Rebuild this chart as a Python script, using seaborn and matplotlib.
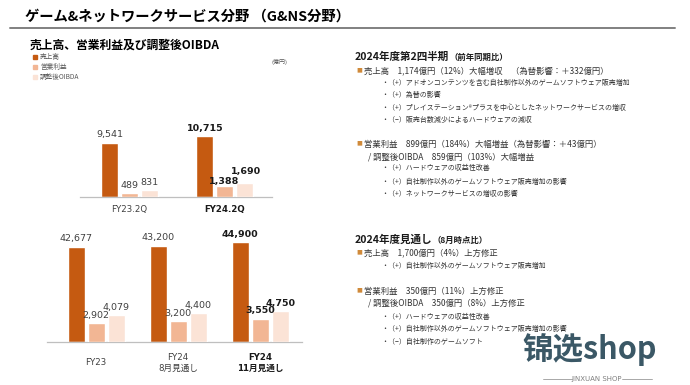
import matplotlib
matplotlib.use("Agg")
import matplotlib.pyplot as plt
from matplotlib.lines import Line2D
from matplotlib.patches import Rectangle
import pandas as pd
import seaborn as sns

# ---------------- data ----------------
series = ['売上高', '営業利益', '調整後OIBDA']

q_periods = ['FY23.2Q', 'FY24.2Q']
q_revenue = [9541, 10715]
q_op = [489, 1388]
q_oibda = [831, 1690]

y_periods = ['FY23', 'FY24\n8月見通し', 'FY24\n11月見通し']
y_revenue = [42677, 43200, 44900]
y_op = [2902, 3200, 3550]
y_oibda = [4079, 4400, 4750]

colors = ['#C55A11', '#F2B694', '#FBE3D6']

title = 'ゲーム&ネットワークサービス分野 （G&NS分野）'
subtitle = '売上高、営業利益及び調整後OIBDA'
unit = '(億円)'

head1 = ('2024年度第2四半期', '（前年同期比）')
block1 = [
    ('main', '売上高　1,174億円（12%）大幅増収　（為替影響：＋332億円）'),
    ('sub', '・（+）アドオンコンテンツを含む自社制作以外のゲームソフトウェア販売増加'),
    ('sub', '・（+）為替の影響'),
    ('sub', '・（+）プレイステーション®プラスを中心としたネットワークサービスの増収'),
    ('sub', '・（−）販売台数減少によるハードウェアの減収'),
    ('main', '営業利益　899億円（184%）大幅増益（為替影響：＋43億円）'),
    ('cont', '/ 調整後OIBDA　859億円（103%）大幅増益'),
    ('sub', '・（+）ハードウェアの収益性改善'),
    ('sub', '・（+）自社制作以外のゲームソフトウェア販売増加の影響'),
    ('sub', '・（+）ネットワークサービスの増収の影響'),
]
head2 = ('2024年度見通し', '（8月時点比）')
block2 = [
    ('main', '売上高　1,700億円（4%）上方修正'),
    ('sub', '・（+）自社制作以外のゲームソフトウェア販売増加'),
    ('main', '営業利益　350億円（11%）上方修正'),
    ('cont', '/ 調整後OIBDA　350億円（8%）上方修正'),
    ('sub', '・（+）ハードウェアの収益性改善'),
    ('sub', '・（+）自社制作以外のゲームソフトウェア販売増加の影響'),
    ('sub', '・（−）自社制作のゲームソフト'),
]
block1_y = [71, 83, 95, 108, 120, 144, 157, 168, 182, 194]
block2_y = [253, 266, 291, 303, 317, 329, 342]

# ---------------- style ----------------
sns.set_style('white')
LAT = ['DejaVu Sans', 'Noto Sans CJK JP']
JP = ['Noto Sans CJK JP', 'DejaVu Sans']
plt.rcParams['font.family'] = LAT

W, H = 690, 385
fig = plt.figure(figsize=(6.9, 3.85), dpi=100)
fig.patch.set_facecolor('white')


def fx(x):
    return x / W


def fy(y):
    return 1 - y / H


def long_df(periods, rev, op, oibda):
    rows = []
    for s, vals in zip(series, [rev, op, oibda]):
        for p, v in zip(periods, vals):
            rows.append({'period': p, 'series': s, 'value': v})
    return pd.DataFrame(rows)


def draw(rect, periods, df, rev_top, prof_top, width, gap, xlim, bold_idx, tick_pad, lsp,
         label_shift):
    ax = fig.add_axes(rect)
    ax2 = ax.twinx()
    pal = dict(zip(series, colors))
    sns.barplot(data=df[df.series == series[0]], x='period', y='value', hue='series',
                hue_order=series, order=periods, palette=pal, width=width, gap=gap,
                dodge=True, ax=ax, legend=False, errorbar=None, saturation=1)
    sns.barplot(data=df[df.series != series[0]], x='period', y='value', hue='series',
                hue_order=series, order=periods, palette=pal, width=width, gap=gap,
                dodge=True, ax=ax2, legend=False, errorbar=None, saturation=1)
    ax.set_ylim(0, rev_top)
    ax2.set_ylim(0, prof_top)
    for a in (ax, ax2):
        a.set_xlabel('')
        a.set_ylabel('')
        a.set_yticks([])
        for sp in a.spines.values():
            sp.set_visible(False)
    pairs = [(a, c) for a in (ax, ax2) for c in a.containers if len(c) > 0]
    for k, (a, c) in enumerate(pairs):
        texts = a.bar_label(c, labels=[f'{v:,.0f}' for v in c.datavalues],
                            padding=2.5, fontsize=6.8, color='#404040')
        for i, t in enumerate(texts):
            if i == bold_idx:
                t.set_fontweight('bold')
                t.set_color('#1a1a1a')
                dx, dy = label_shift.get(k, (0, 0))
                t.xyann = (t.xyann[0] + dx, t.xyann[1] + dy)
    ax.spines['bottom'].set_visible(True)
    ax.spines['bottom'].set_color('#BFBFBF')
    ax.spines['bottom'].set_linewidth(0.9)
    ax.set_xlim(*xlim)
    ax.set_xticks(range(len(periods)))
    ax.set_xticklabels(periods, fontsize=6.2, color='#404040', linespacing=lsp)
    ax.tick_params(axis='x', length=0, pad=tick_pad)
    for i, t in enumerate(ax.get_xticklabels()):
        t.set_va('center')
        if i == bold_idx:
            t.set_fontweight('bold')
            t.set_color('#1a1a1a')
    ax.set_xlim(*xlim)
    return ax, ax2


# top chart (quarter)
draw([fx(80), fy(197), 192 / W, 77 / H], q_periods,
     long_df(q_periods, q_revenue, q_op, q_oibda),
     13580, 9500, 0.62, 0.13, (-0.52, 1.5), 1, 9, 1.3, {1: (-0.5, -2.5), 2: (1, 2.5)})

# bottom chart (full year)
draw([fx(47), fy(342), 255 / W, 107 / H], y_periods,
     long_df(y_periods, y_revenue, y_op, y_oibda),
     48030, 16460, 0.73, 0.15, (-0.6, 2.51), 2, 15, 1.35, {})

# ---------------- texts ----------------
fig.text(fx(25), fy(17), title, fontsize=10.3, fontweight='bold', family=JP,
         va='center', ha='left', color='#000000')
fig.add_artist(Line2D([fx(10), fx(675)], [fy(27.5), fy(27.5)], color='#808080', lw=1.4))
fig.text(fx(30), fy(45), subtitle, fontsize=8.5, fontweight='bold', family=JP,
         va='center', ha='left', color='#000000')

for i, (s, c) in enumerate(zip(series, colors)):
    yy = 56.5 + i * 10
    fig.add_artist(Rectangle((fx(33), fy(yy + 2)), 4 / W, 4 / H, color=c,
                             transform=fig.transFigure))
    fig.text(fx(40), fy(yy), s, fontsize=4.8, family=JP, va='center', ha='left',
             color='#595959')
fig.text(fx(272), fy(62), unit, fontsize=4.3, family=JP, va='center', ha='left',
         color='#595959')

renderer = fig.canvas.get_renderer()


def heading(y, parts):
    t = fig.text(fx(355), fy(y), parts[0], fontsize=7.6, fontweight='bold', family=JP,
                 va='center', ha='left', color='#1a1a1a')
    x1 = t.get_window_extent(renderer).x1
    fig.text(x1 / W, fy(y), parts[1], fontsize=6.0, fontweight='bold', family=JP,
             va='center', ha='left', color='#1a1a1a')


def block(lines, ys):
    for (kind, txt), y in zip(lines, ys):
        if kind == 'main':
            fig.text(fx(356), fy(y), '■', fontsize=4.2, family=JP, va='center',
                     ha='left', color='#D08A3A')
            fig.text(fx(364), fy(y), txt, fontsize=6.0, family=JP, va='center',
                     ha='left', color='#333333')
        elif kind == 'cont':
            fig.text(fx(368), fy(y), txt, fontsize=6.0, family=JP, va='center',
                     ha='left', color='#333333')
        else:
            fig.text(fx(381), fy(y), txt, fontsize=5.0, family=JP, va='center',
                     ha='left', color='#333333')


heading(57, head1)
block(block1, block1_y)
heading(240, head2)
block(block2, block2_y)

# watermark
fig.text(fx(590), fy(350), '锦选shop', fontsize=22, fontweight='bold',
         family=['Noto Sans CJK SC', 'DejaVu Sans'], va='center', ha='center',
         color='#3B5866')
fig.text(fx(597), fy(379), 'JINXUAN SHOP', fontsize=5, family=['DejaVu Sans'],
         va='center', ha='center', color='#7f7f7f')
fig.add_artist(Line2D([fx(543), fx(572)], [fy(379), fy(379)], color='#9a9a9a', lw=0.6))
fig.add_artist(Line2D([fx(622), fx(652)], [fy(379), fy(379)], color='#9a9a9a', lw=0.6))

fig.savefig('out.png', dpi=100, facecolor='white')
